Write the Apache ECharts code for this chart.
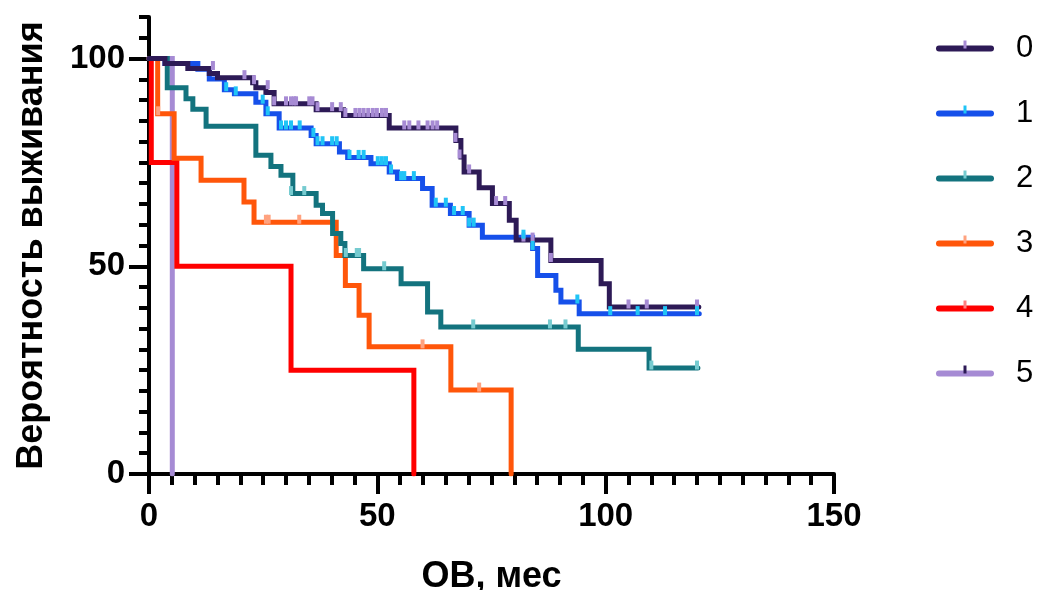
<!DOCTYPE html>
<html>
<head>
<meta charset="utf-8">
<script src="https://cdn.jsdelivr.net/npm/echarts@6/dist/echarts.min.js"></script>
<style>
  html, body { margin: 0; padding: 0; background: #fff; }
  #chart { width: 1037px; height: 590px; }
</style>
</head>
<body>
<div id="chart"></div>
<script>
// группы
var groups = ['0', '1', '2', '3', '4', '5']
var lineColors = ['#2d1a56', '#1650ea', '#13737e', '#ff560a', '#ff0000', '#a68bd4']
var censorColors = ['#a78bd4', '#20c4f6', '#76cbd0', '#ffa27f', '#ff8080', '#2d1a56']

// ступени Каплана-Мейера: [мес, выживаемость %]
var steps0 = [[0, 100], [3.5, 98.8], [8.5, 97.6], [13.2, 96.4], [15, 95.4], [22.7, 94.2], [23.4, 93], [25.6, 91.8],
  [27.4, 89.1], [36.6, 87.7], [42.6, 86.3], [52.6, 83.3], [67.2, 80.3], [68.3, 76.3], [69, 72.7], [72.3, 68.9],
  [75.2, 65.1], [78.9, 61.1], [80.4, 56.3], [88, 51.4], [99, 45.8], [100.8, 40.2], [120.4, 40.2]]
var steps1 = [[0, 100], [3.5, 98.8], [10.7, 97.4], [13.2, 95.1], [16.5, 92.5], [18.7, 91.5], [23.4, 89.5], [25.6, 86.7],
  [28.5, 83.3], [35.5, 81.5], [36.6, 79.5], [41.7, 77.5], [43.5, 76.2], [48.6, 74.7], [52.6, 72.7], [54.4, 71.1],
  [59.9, 68.7], [62, 64.7], [66, 62.7], [70.1, 59.9], [73, 57], [84, 54.3], [85.1, 47.8], [89.1, 44.2],
  [90.2, 41.4], [94.2, 38.6], [120.5, 38.6]]
var steps2 = [[0, 100], [4, 93], [8.1, 90.3], [9.6, 87.8], [12.5, 83.7], [23.4, 76.7], [26.7, 74], [28.9, 71.9],
  [31.5, 67.5], [36.6, 64.7], [38, 62.7], [40.2, 57.9], [42, 55.5], [42.9, 52.6], [47, 49.4], [55.2, 45.8],
  [61, 39], [63.9, 35.4], [94, 30], [109.5, 25.5], [120.2, 25.5]]
var steps3 = [[0, 100], [1.9, 86.7], [5.5, 76], [11.4, 70.7], [20.8, 65.5], [23, 60.6], [41, 52.6], [43, 45.4],
  [46, 38.2], [48.2, 30.6], [66.1, 20.2], [79.3, 0]]
var steps4 = [[0, 100], [0.5, 75], [6.1, 50], [31.1, 25], [58, 0]]
var steps5 = [[0, 100], [5.1, 0]]

// цензурированные наблюдения
var censor0 = [[14, 97.6], [20.9, 95.4], [23, 94.2], [26, 93], [27.4, 89.1], [30, 89.1], [31.1, 89.1], [31.8, 89.1],
  [32.2, 89.1], [35.1, 89.1], [35.8, 89.1], [36.9, 87.7], [40.1, 87.7], [42, 87.7], [43, 86.3], [45.2, 86.3],
  [46.1, 86.3], [47, 86.3], [48, 86.3], [49, 86.3], [49.9, 86.3], [51, 86.3], [51.9, 86.3], [55.9, 83.3],
  [57, 83.3], [59, 83.3], [61, 83.3], [62.1, 83.3], [63.1, 83.3], [67.1, 80.3], [68, 76.3], [70.1, 72.7],
  [76, 65.1], [78, 65.1], [82, 56.3], [84, 56.3], [88, 51.4], [105, 40.2], [109, 40.2], [120, 40.2]]
var censor1 = [[16.9, 92.5], [19, 91.5], [24.9, 89.5], [26, 86.7], [28.9, 83.3], [30, 83.3], [31.1, 83.3],
  [33, 83.3], [36, 81.5], [36.9, 79.5], [38, 79.5], [40.1, 79.5], [41.1, 79.5], [43.9, 76.2], [45.9, 76.2],
  [47, 76.2], [50.1, 74.7], [51, 74.7], [51.9, 74.7], [53, 72.7], [55.2, 71.1], [55.9, 71.1], [58, 71.1],
  [62.8, 64.7], [65, 64.7], [66.8, 62.7], [68.7, 62.7], [70.1, 59.9], [71.1, 59.9], [82, 57], [84, 54.3],
  [93.8, 41.4], [101, 38.6], [107, 38.6], [113, 38.6], [120, 38.6]]
var censor2 = [[31.1, 67.5], [34, 67.5], [43.1, 52.6], [45.5, 52.6], [46, 52.6], [51.5, 49.4], [71, 35.4],
  [87.8, 35.4], [91.2, 35.4], [110, 25.5], [120, 25.5]]
var censor3 = [[2, 86.7], [25.6, 60.6], [26.2, 60.6], [32.9, 60.6], [59.9, 30.6], [72.3, 20.2]]
var censor4 = []
var censor5 = []

var stepData = [steps0, steps1, steps2, steps3, steps4, steps5]
var censorData = [censor0, censor1, censor2, censor3, censor4, censor5]

var fontFamily = '"Liberation Sans", Arial, sans-serif'
var legendTick = 'path://M0,0M16,16M6.5,0h3v8h-3z'

var series = []
// порядок отрисовки: группа 0 поверх остальных
var drawOrder = [5, 1, 4, 3, 2, 0]
drawOrder.forEach(function (i) {
  series.push({
    name: groups[i],
    type: 'line',
    step: 'end',
    data: stepData[i],
    showSymbol: false,
    symbol: legendTick,
    itemStyle: { color: censorColors[i] },
    lineStyle: { color: lineColors[i], width: 5, cap: 'round', join: 'miter' },
    silent: true,
    z: 2
  })
})
groups.forEach(function (g, i) {
  series.push({
    name: g + ' цензур.',
    type: 'scatter',
    data: censorData[i],
    symbol: 'rect',
    symbolSize: [4, 9],
    symbolOffset: [0, -3],
    itemStyle: { color: censorColors[i], opacity: 1 },
    silent: true,
    z: 3
  })
})

var myChart = echarts.init(document.getElementById('chart'))
myChart.setOption({
  animation: false,
  backgroundColor: '#fff',
  grid: { left: 149, right: 203, top: 17, bottom: 116, containLabel: false, outerBoundsMode: 'none' },
  legend: {
    orient: 'vertical',
    left: 936,
    top: 33,
    padding: 0,
    itemWidth: 52,
    itemHeight: 20,
    itemGap: 34,
    data: groups.map(function (g, i) {
      return {
        name: g,
        itemStyle: { color: censorColors[i] },
        lineStyle: { color: lineColors[i], width: 6, cap: 'round' }
      }
    }),
    textStyle: { fontSize: 31, fontFamily: fontFamily, color: '#000', lineHeight: 30, padding: [0, 0, 0, 20] }
  },
  xAxis: {
    type: 'value',
    min: 0,
    max: 150,
    interval: 50,
    name: 'ОВ, мес',
    nameLocation: 'middle',
    nameGap: 85,
    nameTextStyle: { fontSize: 36, fontWeight: 'bold', fontFamily: fontFamily, color: '#000' },
    axisLine: { lineStyle: { color: '#000', width: 4 } },
    axisTick: { length: 20, lineStyle: { color: '#000', width: 4 } },
    minorTick: { show: true, splitNumber: 10, length: 11, lineStyle: { color: '#000', width: 4 } },
    axisLabel: { fontSize: 33, fontWeight: 'bold', fontFamily: fontFamily, color: '#000', margin: 26 },
    splitLine: { show: false },
    minorSplitLine: { show: false }
  },
  yAxis: [
    {
      type: 'value',
      min: 0,
      max: 110,
      interval: 5,
      name: 'Вероятность выживания',
      nameLocation: 'middle',
      nameGap: 99,
      nameTextStyle: { fontSize: 36, fontWeight: 'bold', fontFamily: fontFamily, color: '#000' },
      axisLine: { show: true, lineStyle: { color: '#000', width: 4 } },
      axisTick: { show: true, length: 10, lineStyle: { color: '#000', width: 4 } },
      axisLabel: {
        fontSize: 33,
        fontWeight: 'bold',
        fontFamily: fontFamily,
        color: '#000',
        margin: 24,
        formatter: function (v) { return v % 50 === 0 ? String(v) : '' }
      },
      splitLine: { show: false }
    },
    {
      type: 'value',
      position: 'left',
      min: 0,
      max: 110,
      interval: 50,
      axisLine: { show: false },
      axisTick: { show: true, length: 20, customValues: [0, 50, 100], lineStyle: { color: '#000', width: 4 } },
      axisLabel: { show: false },
      splitLine: { show: false }
    }
  ],
  series: series
})
window.onresize = function () {
  myChart.resize()
}
</script>
</body>
</html>
